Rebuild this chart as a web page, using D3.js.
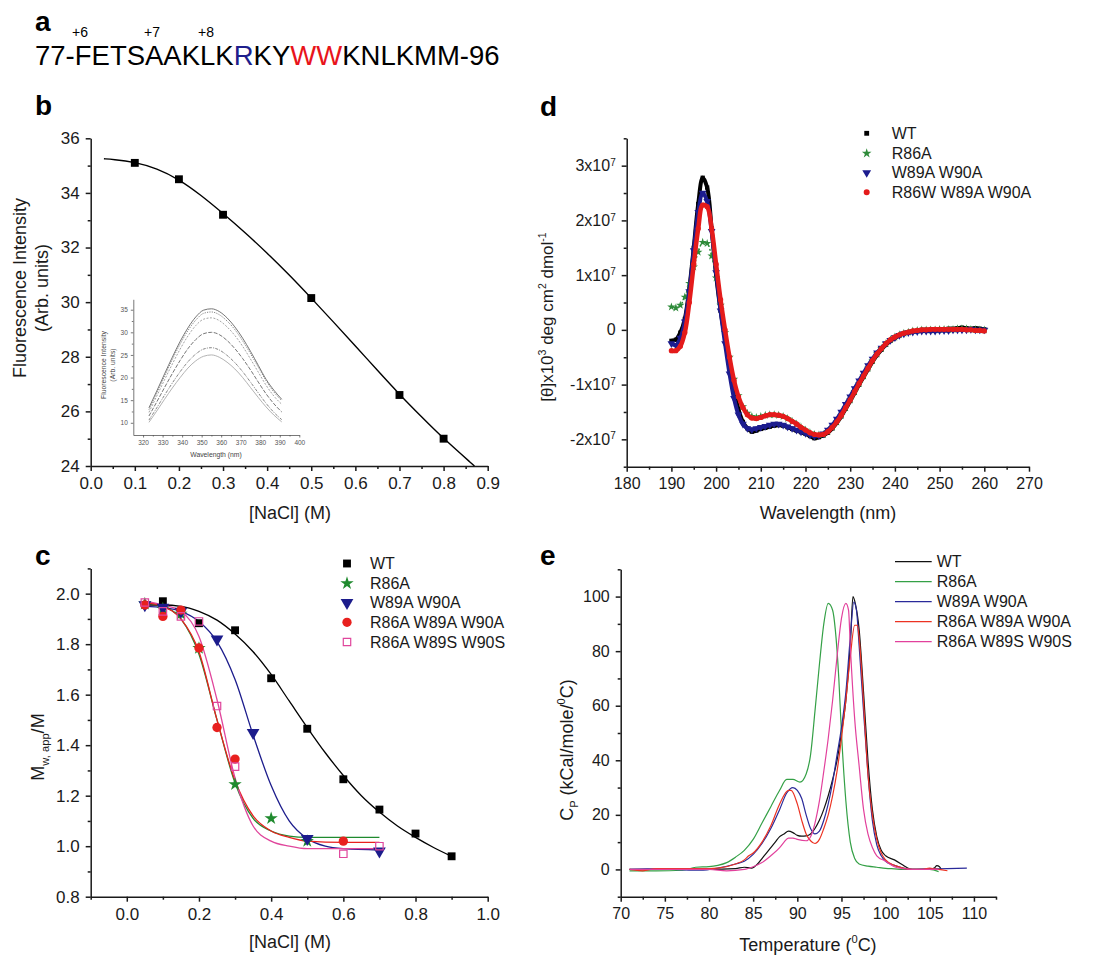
<!DOCTYPE html>
<html>
<head>
<meta charset="utf-8">
<script src="https://cdn.jsdelivr.net/npm/d3@7"></script>
<style>
  body { margin: 0; background: #fff; }
</style>
</head>
<body>
<script>
// ---------- data ----------
// panel b: fluorescence vs NaCl
const bNacl = [0.1, 0.2, 0.3, 0.5, 0.7, 0.8];
const bFluo = [35.1, 34.5, 33.2, 30.15, 26.6, 25.0];
const bFitX = [0.03, 0.05, 0.1, 0.15, 0.2, 0.25, 0.3, 0.35, 0.4, 0.45, 0.5, 0.55, 0.6, 0.65, 0.7, 0.75, 0.8, 0.87];
const bFitY = [35.25, 35.23, 35.13, 34.9, 34.5, 33.92, 33.25, 32.55, 31.8, 31.0, 30.15, 29.28, 28.4, 27.5, 26.62, 25.8, 25.0, 24.0];

// panel b inset: emission spectra
const insetWl = [323, 327, 331, 335, 339, 343, 347, 351, 355, 359, 363, 367, 371, 375, 379, 383, 387, 391];
const insetSpectra = [
  [13.3, 17.0, 20.8, 24.5, 28.0, 31.0, 33.4, 34.9, 35.2, 34.6, 33.2, 31.2, 28.7, 25.8, 22.7, 19.6, 17.2, 15.2],
  [12.9, 16.6, 20.3, 24.0, 27.4, 30.4, 32.7, 34.2, 34.5, 33.9, 32.5, 30.6, 28.1, 25.3, 22.3, 19.3, 16.8, 14.9],
  [12.3, 15.9, 19.5, 23.0, 26.3, 29.2, 31.5, 32.9, 33.2, 32.6, 31.2, 29.3, 26.9, 24.1, 21.2, 18.3, 15.9, 14.1],
  [11.5, 14.6, 17.8, 20.9, 23.8, 26.4, 28.4, 29.7, 30.0, 29.5, 28.2, 26.4, 24.2, 21.7, 19.0, 16.4, 14.2, 12.4],
  [10.6, 13.3, 16.1, 18.8, 21.3, 23.5, 25.2, 26.3, 26.6, 26.1, 24.9, 23.3, 21.3, 19.0, 16.6, 14.3, 12.3, 10.7],
  [10.1, 12.6, 15.2, 17.7, 20.0, 22.1, 23.7, 24.7, 25.0, 24.5, 23.4, 21.9, 20.0, 17.8, 15.6, 13.5, 11.7, 10.2]
];

// panel c: Mw,app/M vs NaCl
const cSeries = ["WT", "R86A", "W89A W90A", "R86A W89A W90A", "R86A W89S W90S"];
const cPointsX = [
  [0.1, 0.2, 0.3, 0.4, 0.5, 0.6, 0.7, 0.8, 0.9],
  [0.05, 0.1, 0.15, 0.2, 0.3, 0.4, 0.5],
  [0.05, 0.1, 0.15, 0.25, 0.35, 0.5, 0.7],
  [0.05, 0.1, 0.15, 0.2, 0.25, 0.3, 0.6],
  [0.05, 0.1, 0.15, 0.2, 0.25, 0.3, 0.6, 0.7]
];
const cPointsY = [
  [1.97, 1.883, 1.855, 1.665, 1.465, 1.265, 1.145, 1.05, 0.96],
  [1.96, 1.94, 1.92, 1.784, 1.245, 1.11, 1.02],
  [1.955, 1.945, 1.93, 1.82, 1.45, 1.03, 0.98],
  [1.955, 1.91, 1.935, 1.785, 1.47, 1.345, 1.02],
  [1.965, 1.93, 1.91, 1.89, 1.555, 1.315, 0.97, 1.0]
];
const cFitX = [
  [0.05, 0.1, 0.15, 0.2, 0.25, 0.3, 0.35, 0.4, 0.45, 0.5, 0.55, 0.6, 0.65, 0.7, 0.75, 0.8, 0.85, 0.9],
  [0.05, 0.1, 0.15, 0.2, 0.25, 0.3, 0.35, 0.4, 0.45, 0.5, 0.6, 0.7],
  [0.05, 0.1, 0.15, 0.2, 0.25, 0.3, 0.35, 0.4, 0.45, 0.5, 0.55, 0.6, 0.7],
  [0.05, 0.1, 0.15, 0.2, 0.25, 0.3, 0.35, 0.4, 0.45, 0.5, 0.6, 0.7],
  [0.05, 0.1, 0.15, 0.2, 0.25, 0.3, 0.35, 0.4, 0.45, 0.5, 0.6, 0.7]
];
const cFitY = [
  [1.955, 1.955, 1.95, 1.93, 1.895, 1.84, 1.77, 1.68, 1.575, 1.47, 1.37, 1.28, 1.2, 1.135, 1.08, 1.035, 0.995, 0.96],
  [1.965, 1.95, 1.9, 1.76, 1.5, 1.25, 1.11, 1.06, 1.04, 1.035, 1.035, 1.035],
  [1.95, 1.945, 1.93, 1.89, 1.81, 1.66, 1.44, 1.24, 1.1, 1.03, 1.0, 0.99, 0.985],
  [1.965, 1.95, 1.9, 1.77, 1.5, 1.26, 1.12, 1.06, 1.035, 1.02, 1.015, 1.015],
  [1.97, 1.955, 1.93, 1.83, 1.58, 1.27, 1.08, 1.02, 1.0, 0.99, 0.99, 0.99]
];

// panel d: CD spectra (x1e7)
const dSeries = ["WT", "R86A", "W89A W90A", "R86W W89A W90A"];
const dWavelength = d3.range(190, 261); // 190..260 nm, 1 nm steps
const dWT = [-0.2, -0.18, -0.05, 0.2, 0.75, 1.5, 2.3, 2.78, 2.6, 1.85, 1.0, 0.35, -0.15, -0.65, -1.1, -1.45, -1.68, -1.8, -1.86, -1.84,
  -1.81, -1.79, -1.77, -1.75, -1.74, -1.75, -1.78, -1.81, -1.84, -1.87, -1.9, -1.94, -1.98, -1.96, -1.93, -1.88, -1.8, -1.7, -1.58, -1.44,
  -1.3, -1.15, -1.0, -0.86, -0.72, -0.58, -0.46, -0.36, -0.27, -0.2, -0.15, -0.1, -0.07, -0.05, -0.03, -0.02, 0, 0, 0, 0.01,
  0.01, 0.01, 0.02, 0.02, 0.03, 0.04, 0.03, 0.02, 0.03, 0.02, 0.01];
const dR86A = [0.42, 0.4, 0.45, 0.6, 0.85, 1.15, 1.42, 1.6, 1.58, 1.35, 0.95, 0.45, -0.05, -0.5, -0.9, -1.2, -1.4, -1.52, -1.58, -1.6,
  -1.58, -1.56, -1.55, -1.55, -1.56, -1.58, -1.62, -1.67, -1.72, -1.78, -1.83, -1.88, -1.91, -1.92, -1.91, -1.86, -1.78, -1.68, -1.56, -1.42,
  -1.28, -1.13, -0.98, -0.84, -0.7, -0.56, -0.44, -0.34, -0.25, -0.18, -0.13, -0.09, -0.06, -0.04, -0.02, -0.01, 0, 0, 0, 0,
  0.01, 0.01, 0.01, 0.01, 0.02, 0.02, 0.02, 0.01, 0.01, 0, 0];
const dW89A = [-0.25, -0.28, -0.15, 0.15, 0.7, 1.45, 2.15, 2.5, 2.35, 1.8, 1.05, 0.35, -0.25, -0.8, -1.25, -1.55, -1.72, -1.8, -1.82, -1.8,
  -1.78, -1.76, -1.74, -1.72, -1.72, -1.74, -1.77, -1.8, -1.83, -1.86, -1.89, -1.92, -1.94, -1.93, -1.9, -1.83, -1.74, -1.63, -1.5, -1.36,
  -1.22, -1.07, -0.93, -0.79, -0.65, -0.53, -0.42, -0.33, -0.25, -0.19, -0.14, -0.1, -0.07, -0.05, -0.04, -0.03, -0.02, -0.02, -0.02, -0.02,
  -0.01, -0.01, -0.01, 0, 0, 0, 0, 0.01, 0, 0, 0];
const dR86W = [-0.38, -0.38, -0.3, -0.05, 0.5, 1.2, 1.85, 2.28, 2.25, 1.85, 1.2, 0.55, 0.0, -0.5, -0.92, -1.22, -1.42, -1.55, -1.61, -1.62,
  -1.6, -1.57, -1.55, -1.55, -1.56, -1.58, -1.62, -1.67, -1.72, -1.78, -1.83, -1.88, -1.91, -1.92, -1.91, -1.86, -1.78, -1.68, -1.56, -1.42,
  -1.28, -1.13, -0.98, -0.84, -0.7, -0.56, -0.44, -0.34, -0.25, -0.18, -0.13, -0.09, -0.06, -0.04, -0.02, -0.01, 0, 0, 0.01, 0.01,
  0.01, 0.01, 0.01, 0.01, 0.01, 0.01, 0, 0, -0.01, -0.01, -0.02];

// panel e: DSC thermograms
const eSeries = ["WT", "R86A", "W89A W90A", "R86A W89A W90A", "R86A W89S W90S"];
const eTemp = [
  [71, 75, 80, 83, 84, 84.8, 85.5, 86, 86.5, 87, 87.5, 88, 88.5, 89, 89.5, 90, 90.5, 91, 91.5, 92, 92.5, 93, 93.5, 94, 94.5, 95, 95.5, 96, 96.3, 96.6, 97, 97.5, 98, 98.5, 99, 99.5, 100, 101, 102, 102.5, 103, 104, 105, 105.5, 105.8, 106.1, 106.3],
  [71, 74, 77, 78.5, 80, 81, 82, 83, 84, 85, 86, 87, 88, 88.8, 89.5, 90.3, 91, 91.5, 92, 92.5, 93, 93.5, 94, 94.3, 94.7, 95, 95.5, 96, 96.5, 97, 98, 99, 100, 101, 102, 105, 106],
  [71, 73, 76, 79, 81, 83, 84, 85, 86, 87, 88, 88.8, 89.5, 90, 90.5, 91, 91.5, 92, 92.5, 93, 93.5, 94, 94.5, 95, 95.5, 96, 96.4, 96.7, 97, 97.5, 98, 98.5, 99, 99.5, 100, 101, 102, 103, 105, 107, 109.2],
  [71, 72.5, 74, 79, 81, 83, 84, 84.5, 85, 86, 87, 88, 89, 89.3, 90, 90.5, 91, 91.5, 92, 92.5, 93, 93.5, 94, 94.5, 95, 95.5, 96, 96.5, 96.8, 97, 97.3, 97.7, 98, 98.5, 99, 99.5, 100, 101, 102, 103, 104, 105, 105.5, 106, 107],
  [71, 77, 80, 82, 84, 85, 86, 87, 88, 88.5, 89, 89.5, 90, 91, 91.5, 92, 92.5, 93, 93.5, 94, 94.5, 95, 95.5, 95.8, 96, 96.5, 97, 97.5, 98, 98.5, 99, 100, 101, 102, 103, 106]
];
const eCp = [
  [0, 0, 0, 0.3, 0.8, 0.5, 2, 4, 6, 8, 10, 12, 13, 14, 13.5, 12.5, 12.2, 12.3, 13, 15, 18, 22, 27, 33, 40, 50, 62, 82, 100, 97, 88, 65, 40, 22, 12, 7, 5, 3.5, 1.5, 0.5, 0, 0, 0.2, 0.5, 1.4, 1.0, 0],
  [-0.5, -0.5, -0.3, 0.8, 1, 1.5, 2.5, 4.5, 7, 11, 17, 23, 29, 33, 33, 32, 35, 42, 58, 75, 90, 97.5, 95, 88, 70, 50, 25, 10, 4, 2, 1.2, 0.8, 0.4, 0.2, 0, 0, -0.8],
  [0, 0.2, 0, -0.3, 0.5, 2, 3, 5.5, 9.5, 15, 22, 28, 30, 29, 26, 20, 15, 13, 14, 18, 24, 32, 42, 52, 65, 85, 98, 95, 82, 58, 35, 18, 9, 5, 3, 1.5, 0.5, 0, 0.2, 0.3, 0.5],
  [0, -0.5, 0.3, 0.3, 0.5, 2, 3.5, 5, 6, 10, 16, 24, 29, 29, 24, 18, 13, 10.5, 9.5, 11, 15, 20, 27, 36, 48, 62, 78, 89.5, 89.5, 85, 72, 50, 35, 20, 11, 6, 3.5, 1.5, 0.5, 0, 0, 0.5, 0.2, 0, -0.5],
  [0, 0, 0, -0.5, 0, 1, 2.5, 5, 8, 10, 11.5, 11.5, 11, 10.5, 12, 17, 25, 36, 48, 62, 78, 92, 97.5, 95, 82, 55, 38, 22, 13, 8, 5, 3, 1, 0.3, 0, 0]
];

// tick labels
const bXTicks = [0, 0.1, 0.2, 0.3, 0.4, 0.5, 0.6, 0.7, 0.8, 0.9];
const bYTicks = [24, 26, 28, 30, 32, 34, 36];
const insetXTicks = [320, 330, 340, 350, 360, 370, 380, 390, 400];
const insetYTicks = [10, 15, 20, 25, 30, 35];
const cXTicks = [0, 0.2, 0.4, 0.6, 0.8, 1.0];
const cYTicks = [0.8, 1.0, 1.2, 1.4, 1.6, 1.8, 2.0];
const dXTicks = [180, 190, 200, 210, 220, 230, 240, 250, 260, 270];
const dYTicks = [-2, -1, 0, 1, 2, 3];
const eXTicks = [70, 75, 80, 85, 90, 95, 100, 105, 110];
const eYTicks = [0, 20, 40, 60, 80, 100];

// ---------- setup ----------
const font = '"Liberation Sans", Arial, Helvetica, sans-serif';
const ink = "#1a1a1a";
const svg = d3.select("body").append("svg")
  .attr("width", 1100).attr("height", 955)
  .style("font-family", font);

function drawAxes(x, y, o) {
  const g = svg.append("g");
  const x0 = x.range()[0], y0 = y.range()[0];
  const tk = o.tk || 5, mk = o.mk || 3, pad = o.pad || 6;
  const gx = g.append("g").attr("transform", `translate(0,${y0})`)
    .call(d3.axisBottom(x).tickValues(o.xMajor).tickSize(tk).tickSizeOuter(0).tickPadding(pad).tickFormat(o.xFmt));
  g.append("g").attr("transform", `translate(0,${y0})`)
    .call(d3.axisBottom(x).tickValues(o.xMinor).tickSize(mk).tickFormat(""))
    .call(s => s.select(".domain").remove());
  const gy = g.append("g").attr("transform", `translate(${x0},0)`)
    .call(d3.axisLeft(y).tickValues(o.yMajor).tickSize(tk).tickSizeOuter(0).tickPadding(pad).tickFormat(o.yFmt));
  g.append("g").attr("transform", `translate(${x0},0)`)
    .call(d3.axisLeft(y).tickValues(o.yMinor).tickSize(mk).tickFormat(""))
    .call(s => s.select(".domain").remove());
  g.selectAll(".domain, .tick line").attr("stroke", o.col || ink).attr("stroke-width", o.sw || 1.5);
  g.selectAll("text").attr("fill", o.col || ink).attr("font-size", o.fs || 17).attr("font-family", font);
  return { gx, gy };
}

// text with sub/superscripts: parts = [[text, shift]] shift 1 = sup, -1 = sub
function rich(t, parts, fs) {
  let cur = 0;
  parts.forEach(([s, k]) => {
    const target = k === 1 ? -0.42 * fs : k === -1 ? 0.3 * fs : 0;
    t.append("tspan").attr("dy", target - cur).attr("font-size", k ? fs * 0.62 : fs).text(s);
    cur = target;
  });
  return t;
}

function panelLetter(txt, x, y) {
  svg.append("text").attr("x", x).attr("y", y).attr("font-size", 28)
    .attr("font-weight", "bold").attr("fill", "#000").text(txt);
}

// ---------- panel a ----------
panelLetter("a", 35, 30.5);
const seq = svg.append("text").attr("x", 35).attr("y", 65).attr("font-size", 27.5).attr("fill", "#000");
[["77-FETSAAKLK", "#000"], ["R", "#1e1e8c"], ["KY", "#000"], ["WW", "#e8141b"], ["KNLKMM-96", "#000"]]
  .forEach(([s, c]) => seq.append("tspan").attr("fill", c).text(s));
[["+6", 72], ["+7", 144], ["+8", 198]].forEach(([s, x]) =>
  svg.append("text").attr("x", x).attr("y", 37).attr("font-size", 14).attr("fill", "#000").text(s));

// ---------- panel b ----------
panelLetter("b", 35, 115);
const bx = d3.scaleLinear().domain([0, 0.9]).range([90.7, 487.7]);
const by = d3.scaleLinear().domain([24, 36]).range([466, 138.3]);
drawAxes(bx, by, {
  xMajor: bXTicks, xMinor: d3.range(0.05, 0.9, 0.1), xFmt: d3.format(".1f"),
  yMajor: bYTicks, yMinor: d3.range(25, 36, 2), yFmt: d3.format("d")
});
svg.append("path")
  .datum(bFitX.map((v, i) => [v, bFitY[i]]))
  .attr("fill", "none").attr("stroke", "#000").attr("stroke-width", 1.4)
  .attr("d", d3.line().x(d => bx(d[0])).y(d => by(d[1])).curve(d3.curveBasis));
svg.selectAll(".bpt").data(bNacl).enter().append("path")
  .attr("transform", (d, i) => `translate(${bx(d)},${by(bFluo[i])})`)
  .attr("d", d3.symbol(d3.symbolSquare, 62)).attr("fill", "#000");
svg.append("text").attr("text-anchor", "middle").attr("font-size", 18).attr("fill", ink)
  .attr("transform", "translate(26,288) rotate(-90)").text("Fluorescence Intensity");
svg.append("text").attr("text-anchor", "middle").attr("font-size", 18).attr("fill", ink)
  .attr("transform", "translate(48,288) rotate(-90)").text("(Arb. units)");
svg.append("text").attr("x", 290).attr("y", 519).attr("text-anchor", "middle")
  .attr("font-size", 18).attr("fill", ink).text("[NaCl] (M)");

// inset
const ix = d3.scaleLinear().domain([315, 400]).range([133.3, 299.3]);
const iy = d3.scaleLinear().domain([7.3, 37.3]).range([435, 299.3]);
drawAxes(ix, iy, {
  xMajor: insetXTicks, xMinor: d3.range(325, 400, 10), xFmt: d3.format("d"),
  yMajor: insetYTicks, yMinor: d3.range(12.5, 37, 5), yFmt: d3.format("d"),
  tk: 2.5, mk: 1.5, pad: 3, fs: 6.5, sw: 0.8, col: "#555"
});
const insetDash = [null, "1.2,1.2", "2,1.5", "4,1.5", "3,1.2,1,1.2", null];
const insetCol = ["#666", "#777", "#999", "#666", "#777", "#aaa"];
insetSpectra.forEach((s, k) => {
  svg.append("path").datum(s)
    .attr("fill", "none").attr("stroke", insetCol[k]).attr("stroke-width", 0.9)
    .attr("stroke-dasharray", insetDash[k])
    .attr("d", d3.line().x((d, i) => ix(insetWl[i])).y(d => iy(d)).curve(d3.curveMonotoneX));
});
svg.append("text").attr("x", 216).attr("y", 457).attr("text-anchor", "middle")
  .attr("font-size", 6.8).attr("fill", "#444").text("Wavelength (nm)");
svg.append("text").attr("text-anchor", "middle").attr("font-size", 6.8).attr("fill", "#444")
  .attr("transform", "translate(106,365) rotate(-90)").text("Fluorescence Intensity");
svg.append("text").attr("text-anchor", "middle").attr("font-size", 6.8).attr("fill", "#444")
  .attr("transform", "translate(115,365) rotate(-90)").text("(Arb. units)");

// ---------- panel c ----------
panelLetter("c", 35, 565);
const cx = d3.scaleLinear().domain([-0.1, 1.0]).range([90.7, 487.7]);
const cy = d3.scaleLinear().domain([0.8, 2.1]).range([896.7, 568.4]);
drawAxes(cx, cy, {
  xMajor: cXTicks, xMinor: d3.range(-0.1, 1.0, 0.2), xFmt: d3.format(".1f"),
  yMajor: cYTicks, yMinor: d3.range(0.9, 2.15, 0.2), yFmt: d3.format(".1f")
});
const cCol = ["#000", "#1f8a2e", "#1c1c8c", "#e8201e", "#e0469c"];
const cSym = [
  { t: d3.symbolSquare, s: 62, fill: true, rot: 0 },
  { t: d3.symbolStar, s: 55, fill: true, rot: 0 },
  { t: d3.symbolTriangle, s: 70, fill: true, rot: 180 },
  { t: d3.symbolCircle, s: 68, fill: true, rot: 0 },
  { t: d3.symbolSquare, s: 55, fill: false, rot: 0 }
];
cFitX.forEach((xs, k) => {
  svg.append("path").datum(xs.map((v, i) => [v, cFitY[k][i]]))
    .attr("fill", "none").attr("stroke", cCol[k]).attr("stroke-width", 1.3)
    .attr("d", d3.line().x(d => cx(d[0])).y(d => cy(d[1])).curve(d3.curveMonotoneX));
});
function cMarker(g, k) {
  const m = cSym[k];
  g.attr("d", d3.symbol(m.t, m.s))
    .attr("fill", m.fill ? cCol[k] : "none")
    .attr("stroke", m.fill ? "none" : cCol[k]).attr("stroke-width", 1.2);
}
cPointsX.forEach((xs, k) => {
  svg.selectAll(".cp" + k).data(xs).enter().append("path")
    .attr("transform", (d, i) => `translate(${cx(d)},${cy(cPointsY[k][i])}) rotate(${cSym[k].rot})`)
    .call(g => cMarker(g, k));
});
const cLegY = [563.5, 583.3, 602.7, 622.3, 642];
cSeries.forEach((name, k) => {
  svg.append("path").attr("transform", `translate(347,${cLegY[k]}) rotate(${cSym[k].rot})`).call(g => cMarker(g, k));
  svg.append("text").attr("x", 370).attr("y", cLegY[k]).attr("dy", "0.36em")
    .attr("font-size", 16).attr("fill", ink).text(name);
});
rich(svg.append("text").attr("text-anchor", "middle").attr("fill", ink)
  .attr("transform", "translate(43.5,747) rotate(-90)"),
  [["M", 0], ["w, app", -1], ["/M", 0]], 18);
svg.append("text").attr("x", 290).attr("y", 948).attr("text-anchor", "middle")
  .attr("font-size", 18).attr("fill", ink).text("[NaCl] (M)");

// ---------- panel d ----------
panelLetter("d", 540, 116);
const dx = d3.scaleLinear().domain([180, 270]).range([626.7, 1029]);
const dy = d3.scaleLinear().domain([-2.5, 3.5]).range([466.7, 138.3]);
const dAx = drawAxes(dx, dy, {
  xMajor: dXTicks, xMinor: d3.range(185, 270, 10), xFmt: d3.format("d"),
  yMajor: dYTicks, yMinor: d3.range(-2.5, 3.6, 1), yFmt: d3.format("d"), fs: 16
});
dAx.gy.selectAll(".tick text").each(function (d) {
  const t = d3.select(this);
  if (d === 0) return;
  t.text(null);
  t.append("tspan").text(d + "x10");
  t.append("tspan").attr("dy", "-0.55em").attr("font-size", 10).text("7");
});
const dData = [dWT, dR86A, dW89A, dR86W];
const dCol = ["#000", "#2e8b3a", "#1c1c8f", "#e41b1b"];
const dSym = [
  { t: d3.symbolSquare, s: 18, rot: 0, w: 4 },
  { t: d3.symbolStar, s: 22, rot: 0, w: 1.5 },
  { t: d3.symbolTriangle, s: 26, rot: 180, w: 4 },
  { t: d3.symbolCircle, s: 22, rot: 0, w: 4.5 }
];
dData.forEach((vals, k) => {
  // dense band of points: a thick trace under the markers
  svg.append("path").datum(vals)
    .attr("fill", "none").attr("stroke", dCol[k]).attr("stroke-width", dSym[k].w)
    .attr("stroke-dasharray", k === 1 ? "2,2" : null)
    .attr("d", d3.line().x((d, i) => dx(dWavelength[i])).y(d => dy(d)).curve(d3.curveCatmullRom));
  svg.selectAll(".dp" + k).data(vals).enter().append("path")
    .attr("transform", (d, i) => `translate(${dx(dWavelength[i])},${dy(d)}) rotate(${dSym[k].rot})`)
    .attr("d", d3.symbol(dSym[k].t, dSym[k].s)).attr("fill", dCol[k]);
});
const dLegY = [133.3, 153.3, 172.7, 192.3];
dSeries.forEach((name, k) => {
  svg.append("path").attr("transform", `translate(866.7,${dLegY[k]}) rotate(${dSym[k].rot})`)
    .attr("d", d3.symbol(dSym[k].t, dSym[k].s * 1.3)).attr("fill", dCol[k]);
  svg.append("text").attr("x", 891.7).attr("y", dLegY[k]).attr("dy", "0.36em")
    .attr("font-size", 16).attr("fill", ink).text(name);
});
rich(svg.append("text").attr("text-anchor", "middle").attr("fill", ink)
  .attr("transform", "translate(553,317) rotate(-90)"),
  [["[θ]x10", 0], ["3", 1], [" deg cm", 0], ["2", 1], [" dmol", 0], ["-1", 1]], 17);
svg.append("text").attr("x", 828).attr("y", 519).attr("text-anchor", "middle")
  .attr("font-size", 18).attr("fill", ink).text("Wavelength (nm)");

// ---------- panel e ----------
panelLetter("e", 540, 565);
const ex = d3.scaleLinear().domain([70, 112.5]).range([620.7, 996]);
const ey = d3.scaleLinear().domain([-10, 110]).range([896.7, 569.3]);
drawAxes(ex, ey, {
  xMajor: eXTicks, xMinor: d3.range(72.5, 113, 5), xFmt: d3.format("d"),
  yMajor: eYTicks, yMinor: d3.range(-10, 111, 20), yFmt: d3.format("d"), fs: 16
});
const eCol = ["#111", "#34a046", "#2a2a9a", "#ec3222", "#e2409c"];
eTemp.forEach((ts, k) => {
  svg.append("path").datum(ts.map((t, i) => [t, eCp[k][i]]))
    .attr("fill", "none").attr("stroke", eCol[k]).attr("stroke-width", 1.2)
    .attr("d", d3.line().x(d => ex(d[0])).y(d => ey(d[1])).curve(d3.curveMonotoneX));
});
const eLegY = [561.7, 581.7, 601.7, 621.7, 641.7];
eSeries.forEach((name, k) => {
  svg.append("line").attr("x1", 895).attr("x2", 931.7).attr("y1", eLegY[k]).attr("y2", eLegY[k])
    .attr("stroke", eCol[k]).attr("stroke-width", 1.2);
  svg.append("text").attr("x", 936.7).attr("y", eLegY[k]).attr("dy", "0.36em")
    .attr("font-size", 16).attr("fill", ink).text(name);
});
rich(svg.append("text").attr("text-anchor", "middle").attr("fill", ink)
  .attr("transform", "translate(573,750) rotate(-90)"),
  [["C", 0], ["P", -1], [" (kCal/mole/", 0], ["0", 1], ["C)", 0]], 18);
rich(svg.append("text").attr("x", 808).attr("y", 951).attr("text-anchor", "middle").attr("fill", ink),
  [["Temperature (", 0], ["0", 1], ["C)", 0]], 18);
</script>
</body>
</html>
